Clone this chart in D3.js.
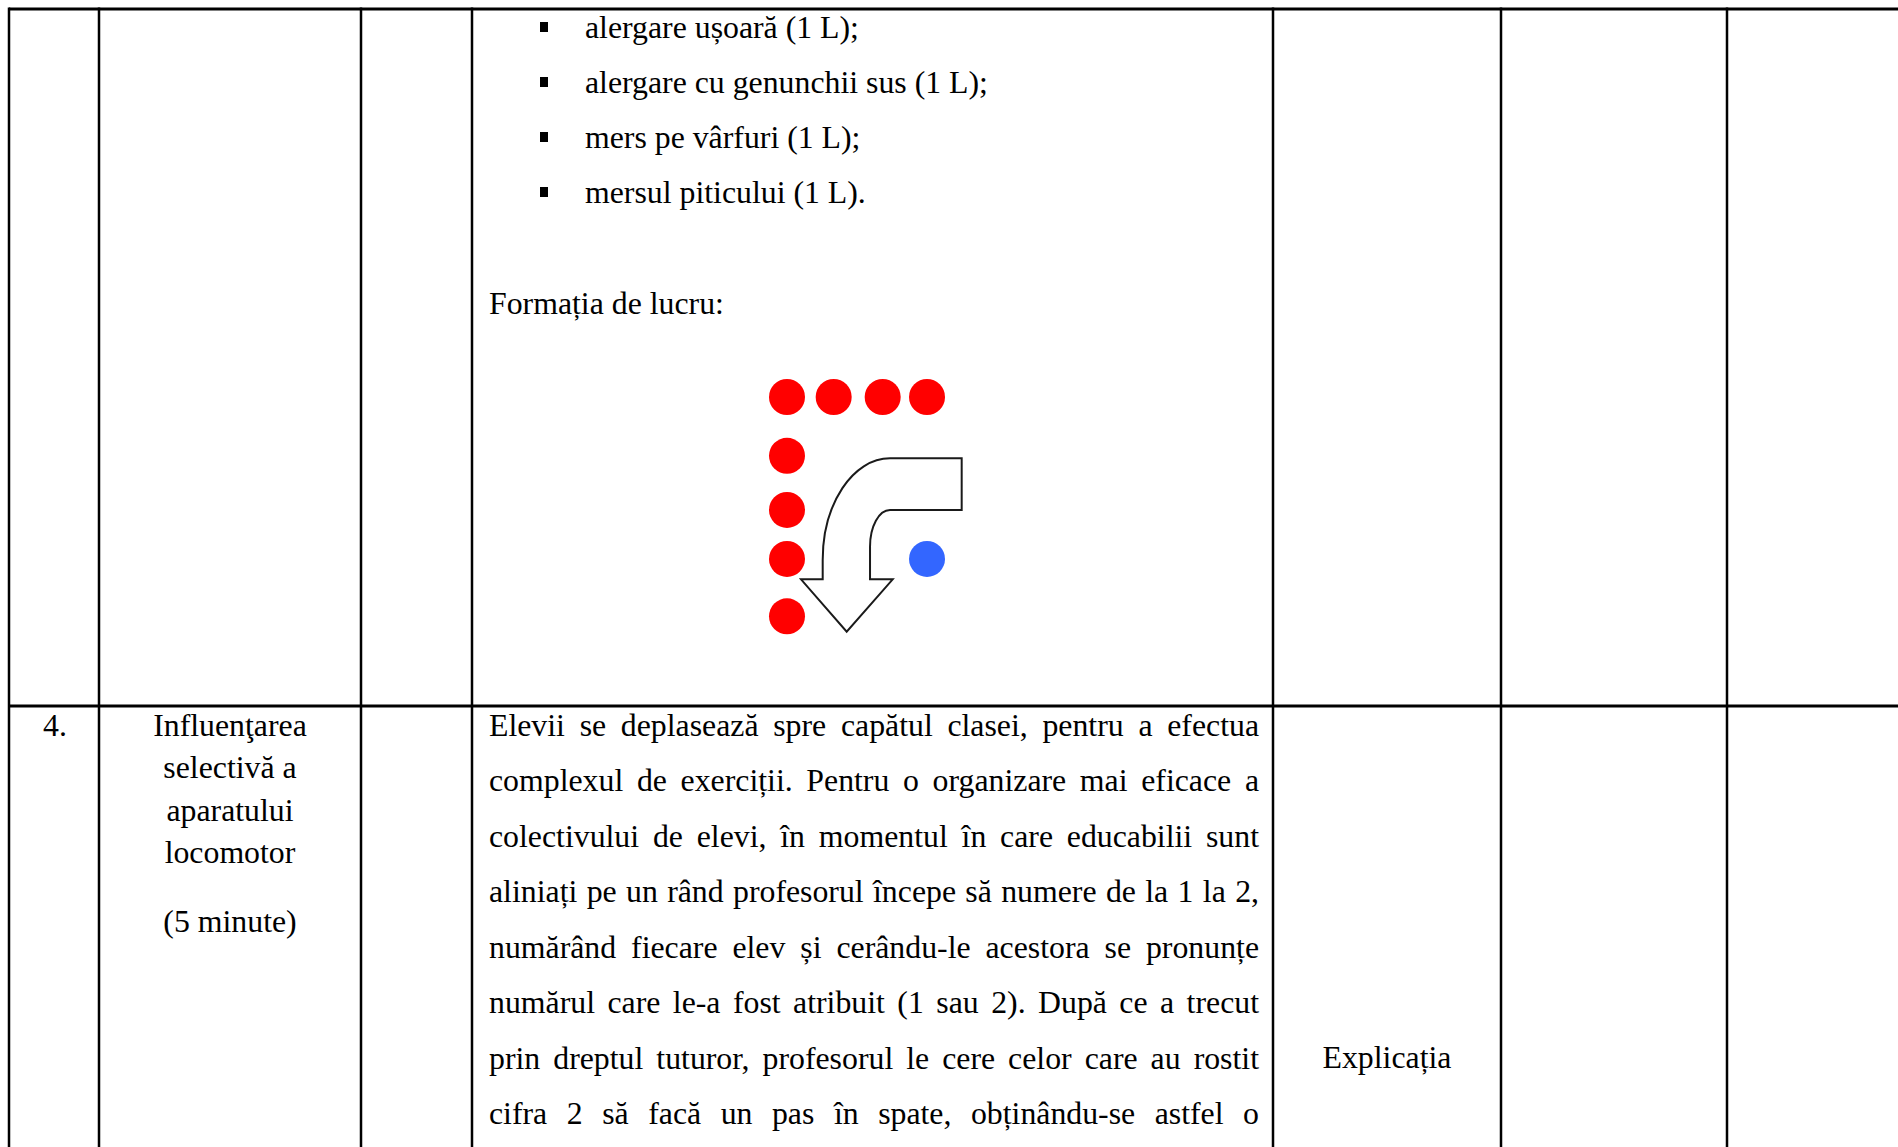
<!DOCTYPE html>
<html>
<head>
<meta charset="utf-8">
<script src="https://cdn.jsdelivr.net/npm/d3@7"></script>
<style>
  html, body { margin: 0; padding: 0; background: #ffffff; }
  svg { display: block; }
</style>
</head>
<body>
<div id="chart"></div>
<script>
// Text content of the table rows
const bulletItems = [
    "alergare ușoară (1 L);",
    "alergare cu genunchii sus (1 L);",
    "mers pe vârfuri (1 L);",
    "mersul piticului (1 L)."
];
const formationTitle = "Formația de lucru:";
const stageNumber = "4.";
const stageLines = ["Influenţarea", "selectivă a", "aparatului", "locomotor"];
const stageDuration = "(5 minute)";
const paragraphLines = [
    "Elevii se deplasează spre capătul clasei, pentru a efectua",
    "complexul de exerciții. Pentru o organizare mai eficace a",
    "colectivului de elevi, în momentul în care educabilii sunt",
    "aliniați pe un rând profesorul începe să numere de la 1 la 2,",
    "numărând fiecare elev și cerându-le acestora se pronunțe",
    "numărul care le-a fost atribuit (1 sau 2). După ce a trecut",
    "prin dreptul tuturor, profesorul le cere celor care au rostit",
    "cifra 2 să facă un pas în spate, obținându-se astfel o"
];
const methodLabel = "Explicația";

// Formation diagram (grid units): students in red, teacher in blue
const studentCols = [0, 1, 2.05, 3, 0, 0, 0, 0];
const studentRows = [0, 0, 0, 0, 1.26, 2.42, 3.47, 4.7];
const teacherCols = [3];
const teacherRows = [3.47];

// Bent arrow outline (grid units)
const arrowTop = 1.314, arrowBar = 2.421, arrowRight = 3.743;
const arrowBendX = 2.207, arrowOuterX = 0.765, arrowInnerX = 1.779;
const arrowOuterBendY = 3.493, arrowInnerBendY = 3.208;
const arrowHeadY = 3.906, arrowWingL = 0.3, arrowWingR = 2.265;
const arrowTipX = 1.279, arrowTipY = 5.029;

// ---- layout ----
const width = 1898, height = 1147;
const colEdges = [9, 99, 361, 472, 1273, 1501, 1727];
const tableTop = 9, rowSplit = 706;
const fontFamily = '"Liberation Serif", "Times New Roman", serif';
const fontSize = 31.8;

const svg = d3.select('#chart')
    .append('svg')
    .attr('width', width)
    .attr('height', height);

// Table grid
const grid = svg.append('g').attr('class', 'grid');

grid.append('line')
    .attr('x1', colEdges[0]).attr('x2', width)
    .attr('y1', tableTop).attr('y2', tableTop)
    .attr('stroke', '#000').attr('stroke-width', 3);

grid.append('line')
    .attr('x1', colEdges[0]).attr('x2', width)
    .attr('y1', rowSplit).attr('y2', rowSplit)
    .attr('stroke', '#000').attr('stroke-width', 3);

grid.selectAll('line.col')
    .data(colEdges)
    .enter()
    .append('line')
    .attr('class', 'col')
    .attr('x1', d => d).attr('x2', d => d)
    .attr('y1', tableTop - 1.5).attr('y2', height)
    .attr('stroke', '#000')
    .attr('stroke-width', 2.5);

const textStyle = sel => sel
    .style('font-family', fontFamily)
    .style('font-size', fontSize + 'px')
    .attr('fill', '#000');

// ---- first row: bullet list ----
const bulletY = d3.scalePoint()
    .domain(d3.range(bulletItems.length))
    .range([38, 203]);

const bullets = svg.append('g').attr('class', 'bullets');

bullets.selectAll('rect')
    .data(bulletItems)
    .enter()
    .append('rect')
    .attr('x', 540)
    .attr('y', (d, i) => bulletY(i) - 16)
    .attr('width', 8)
    .attr('height', 10)
    .attr('fill', '#000');

bullets.selectAll('text')
    .data(bulletItems)
    .enter()
    .append('text')
    .attr('x', 585)
    .attr('y', (d, i) => bulletY(i))
    .call(textStyle)
    .text(d => d);

svg.append('text')
    .attr('x', 489)
    .attr('y', 314)
    .call(textStyle)
    .text(formationTitle);

// ---- formation diagram ----
const fx = d3.scaleLinear().domain([0, 1]).range([787, 833.67]);
const fy = d3.scaleLinear().domain([0, 1]).range([397, 443.67]);

const diagram = svg.append('g').attr('class', 'formation');

// arrow, drawn with quarter-ellipse bends
const k = 0.5523;
const arrow = d3.path();
arrow.moveTo(fx(arrowRight), fy(arrowTop));
arrow.lineTo(fx(arrowBendX), fy(arrowTop));
{
    const rx = arrowBendX - arrowOuterX, ry = arrowOuterBendY - arrowTop;
    arrow.bezierCurveTo(
        fx(arrowBendX - k * rx), fy(arrowTop),
        fx(arrowOuterX), fy(arrowOuterBendY - k * ry),
        fx(arrowOuterX), fy(arrowOuterBendY));
}
arrow.lineTo(fx(arrowOuterX), fy(arrowHeadY));
arrow.lineTo(fx(arrowWingL), fy(arrowHeadY));
arrow.lineTo(fx(arrowTipX), fy(arrowTipY));
arrow.lineTo(fx(arrowWingR), fy(arrowHeadY));
arrow.lineTo(fx(arrowInnerX), fy(arrowHeadY));
arrow.lineTo(fx(arrowInnerX), fy(arrowInnerBendY));
{
    const rx = arrowBendX - arrowInnerX, ry = arrowInnerBendY - arrowBar;
    arrow.bezierCurveTo(
        fx(arrowInnerX), fy(arrowInnerBendY - k * ry),
        fx(arrowBendX - k * rx), fy(arrowBar),
        fx(arrowBendX), fy(arrowBar));
}
arrow.lineTo(fx(arrowRight), fy(arrowBar));
arrow.closePath();

diagram.append('path')
    .attr('d', arrow.toString())
    .attr('fill', '#ffffff')
    .attr('stroke', '#1a1a1a')
    .attr('stroke-width', 2)
    .attr('stroke-linejoin', 'miter');

diagram.selectAll('circle.student')
    .data(studentCols)
    .enter()
    .append('circle')
    .attr('class', 'student')
    .attr('cx', d => fx(d))
    .attr('cy', (d, i) => fy(studentRows[i]))
    .attr('r', 18)
    .attr('fill', '#ff0000');

diagram.selectAll('circle.teacher')
    .data(teacherCols)
    .enter()
    .append('circle')
    .attr('class', 'teacher')
    .attr('cx', d => fx(d))
    .attr('cy', (d, i) => fy(teacherRows[i]))
    .attr('r', 18)
    .attr('fill', '#3366ff');

// ---- second row ----
svg.append('text')
    .attr('x', 43)
    .attr('y', 736)
    .call(textStyle)
    .text(stageNumber);

const stageY = d3.scalePoint()
    .domain(d3.range(stageLines.length))
    .range([736, 863]);

const stageX = (colEdges[1] + colEdges[2]) / 2;

svg.append('g').selectAll('text')
    .data(stageLines)
    .enter()
    .append('text')
    .attr('x', stageX)
    .attr('y', (d, i) => stageY(i))
    .attr('text-anchor', 'middle')
    .call(textStyle)
    .text(d => d);

svg.append('text')
    .attr('x', stageX)
    .attr('y', 932)
    .attr('text-anchor', 'middle')
    .call(textStyle)
    .text(stageDuration);

// justified paragraph: every word placed so the line fills the column
const paraLeft = 489, paraRight = 1259;
const paraY = d3.scalePoint()
    .domain(d3.range(paragraphLines.length))
    .range([736, 1124]);

const para = svg.append('g').attr('class', 'paragraph');

paragraphLines.forEach((line, i) => {
    const words = line.split(' ');
    const wordNodes = words.map(w => para.append('text')
        .attr('y', paraY(i))
        .call(textStyle)
        .text(w));
    const widths = wordNodes.map(n => n.node().getComputedTextLength());
    const gap = (paraRight - paraLeft - d3.sum(widths)) / (words.length - 1);
    let x = paraLeft;
    wordNodes.forEach((n, j) => {
        n.attr('x', x);
        x += widths[j] + gap;
    });
});

svg.append('text')
    .attr('x', (colEdges[4] + colEdges[5]) / 2)
    .attr('y', 1068)
    .attr('text-anchor', 'middle')
    .call(textStyle)
    .text(methodLabel);
</script>
</body>
</html>
